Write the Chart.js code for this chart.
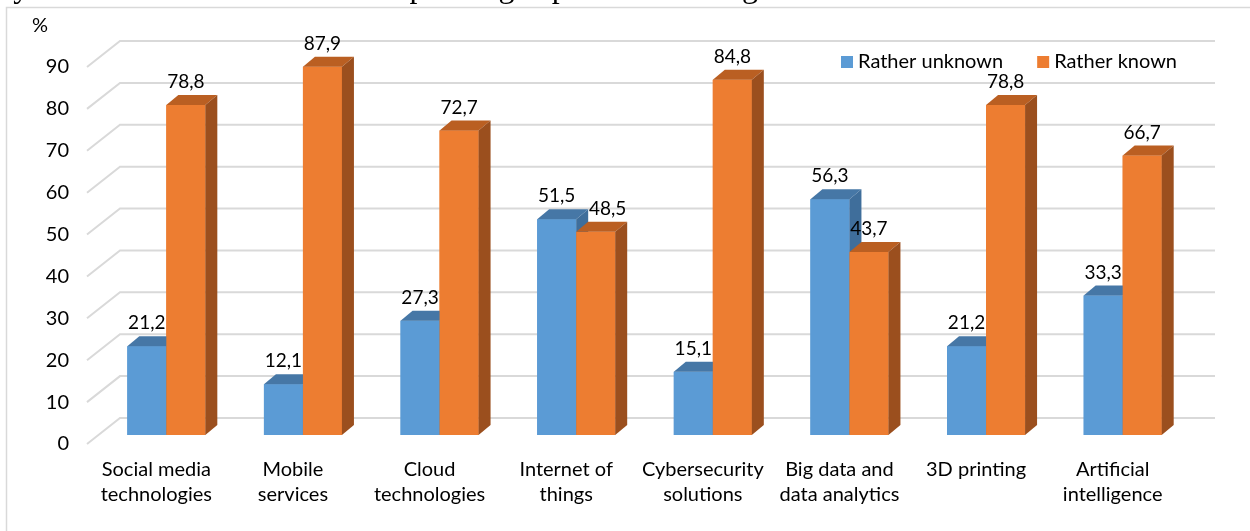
<!DOCTYPE html>
<html>
<head>
<meta charset="utf-8">
<script src="https://cdn.jsdelivr.net/npm/chart.js@4/dist/chart.umd.min.js"></script>
<style>
  html, body { margin: 0; padding: 0; background: #fff; }
  #wrap { width: 1250px; height: 531px; position: relative; }
</style>
</head>
<body>
<div id="wrap"><canvas id="chartCanvas" width="1250" height="531"></canvas></div>
<script>
// categories and the two answer groups (percent)
const categories = [
  ['Social media', 'technologies'],
  ['Mobile', 'services'],
  ['Cloud', 'technologies'],
  ['Internet of', 'things'],
  ['Cybersecurity', 'solutions'],
  ['Big data and', 'data analytics'],
  ['3D printing'],
  ['Artificial', 'intelligence']
];
const ratherUnknown = [21.2, 12.1, 27.3, 51.5, 15.1, 56.3, 21.2, 33.3];
const ratherKnown = [78.8, 87.9, 72.7, 48.5, 84.8, 43.7, 78.8, 66.7];
const yTicks = [0, 10, 20, 30, 40, 50, 60, 70, 80, 90];

const FONT = 'Lato';
const colors = {
  blue: { front: '#5B9BD5', top: '#4677A6', side: '#3F6E9B' },
  orange: { front: '#ED7D31', top: '#BA5F22', side: '#9B4F1E' }
};
// bar depth
const DX = 12, DY = 10;

function fmt(v) {
  return v.toFixed(1).replace('.', ',');
}

const bar3d = {
  id: 'bar3d',
  beforeDraw(chart) {
    const ctx = chart.ctx;
    ctx.save();
    // tail of the paragraph line above the figure
    ctx.fillStyle = '#000';
    ctx.font = '32px "Liberation Serif"';
    ctx.textBaseline = 'alphabetic';
    ctx.textAlign = 'left';
    ctx.fillText('ay in which the businesses are operating is presented in Figure 3.', -1, -3);
    // chart frame
    ctx.strokeStyle = '#d9d9d9';
    ctx.lineWidth = 1.5;
    ctx.beginPath();
    ctx.moveTo(6.5, 531);
    ctx.lineTo(6.5, 7.5);
    ctx.lineTo(1250, 7.5);
    ctx.stroke();
    // unit
    ctx.font = '20px ' + FONT;
    ctx.textAlign = 'center';
    ctx.textBaseline = 'middle';
    ctx.fillText('%', 40, 26);
    ctx.restore();
  },
  beforeDatasetsDraw(chart) {
    // side wall + back wall gridlines
    const ctx = chart.ctx, y = chart.scales.y, area = chart.chartArea;
    const frontX = area.left - 11, backX = area.left + 22, wallRight = area.right + 24;
    ctx.save();
    ctx.strokeStyle = '#d9d9d9';
    ctx.lineWidth = 2;
    yTicks.forEach(v => {
      const py = y.getPixelForValue(v);
      ctx.beginPath();
      ctx.moveTo(frontX, py + 9);
      ctx.lineTo(backX, py - 17);
      ctx.lineTo(wallRight, py - 17);
      ctx.stroke();
    });
    ctx.restore();
  },
  afterDatasetsDraw(chart) {
    const ctx = chart.ctx;
    const metas = [chart.getDatasetMeta(0), chart.getDatasetMeta(1)];
    const pal = [colors.blue, colors.orange];
    ctx.save();
    for (let i = 0; i < categories.length; i++) {
      metas.forEach((meta, d) => {
        const el = meta.data[i];
        const l = el.x - el.width / 2, r = el.x + el.width / 2;
        const t = el.y, b = el.base;
        const c = pal[d];
        ctx.fillStyle = c.front;
        ctx.fillRect(l, t, r - l, b - t);
        ctx.fillStyle = c.top;
        ctx.beginPath();
        ctx.moveTo(l, t);
        ctx.lineTo(l + DX, t - DY);
        ctx.lineTo(r + DX, t - DY);
        ctx.lineTo(r, t);
        ctx.closePath();
        ctx.fill();
        ctx.fillStyle = c.side;
        ctx.beginPath();
        ctx.moveTo(r, t);
        ctx.lineTo(r + DX, t - DY);
        ctx.lineTo(r + DX, b - DY);
        ctx.lineTo(r, b);
        ctx.closePath();
        ctx.fill();
      });
    }
    // value labels
    ctx.fillStyle = '#000';
    ctx.font = '19px ' + FONT;
    ctx.textAlign = 'center';
    ctx.textBaseline = 'middle';
    const sets = [ratherUnknown, ratherKnown];
    for (let i = 0; i < categories.length; i++) {
      const e0 = metas[0].data[i], e1 = metas[1].data[i];
      metas.forEach((meta, d) => {
        const el = meta.data[i];
        let x = el.x;
        // push the second label aside when both sit at nearly the same height
        if (d === 1 && Math.abs(e0.y - e1.y) < 16) x += 12;
        ctx.fillText(fmt(sets[d][i]), x, el.y - 23);
      });
    }
    ctx.restore();
  },
  afterDraw(chart) {
    // legend inside the plot, top right
    const ctx = chart.ctx;
    ctx.save();
    ctx.font = '20px ' + FONT;
    ctx.textBaseline = 'middle';
    ctx.textAlign = 'left';
    let x = 841;
    const yc = 62;
    chart.data.datasets.forEach((ds, d) => {
      ctx.fillStyle = ds.backgroundColor;
      ctx.fillRect(x, yc - 6, 12, 12);
      ctx.fillStyle = '#000';
      ctx.fillText(ds.label, x + 17, yc);
      x += 17 + ctx.measureText(ds.label).width + 34;
    });
    ctx.restore();
  }
};

Chart.defaults.color = '#000';
Chart.defaults.font.family = FONT;
Chart.defaults.font.size = 20;

const ctx = document.getElementById('chartCanvas').getContext('2d');
new Chart(ctx, {
  type: 'bar',
  data: {
    labels: categories,
    datasets: [
      { label: 'Rather unknown', data: ratherUnknown, backgroundColor: colors.blue.front, borderWidth: 0 },
      { label: 'Rather known', data: ratherKnown, backgroundColor: colors.orange.front, borderWidth: 0 }
    ]
  },
  options: {
    responsive: false,
    animation: false,
    events: [],
    datasets: { bar: { categoryPercentage: 0.571, barPercentage: 1 } },
    layout: { padding: { left: 0, right: 59, top: 58, bottom: 0 } },
    plugins: { legend: { display: false }, tooltip: { enabled: false } },
    scales: {
      x: {
        grid: { display: false },
        border: { display: false },
        ticks: { padding: 14, labelOffset: -10, maxRotation: 0, autoSkip: false, font: { size: 20, lineHeight: 1.25 } },
        afterFit(scale) { scale.height = 96; }
      },
      y: {
        min: 0,
        max: 90,
        grid: { display: false, drawTicks: false },
        border: { display: false },
        ticks: {
          stepSize: 10,
          padding: 29,
          labelOffset: 9,
          callback: (v) => yTicks.includes(v) ? String(v) : ''
        },
        afterFit(scale) { scale.width = 98; }
      }
    }
  },
  plugins: [bar3d]
});
</script>
</body>
</html>
